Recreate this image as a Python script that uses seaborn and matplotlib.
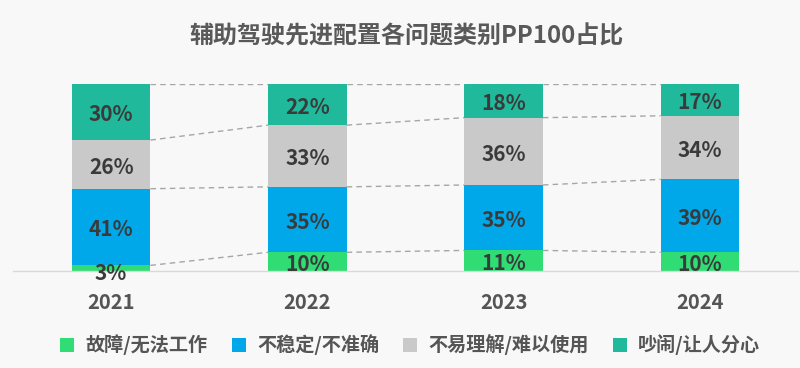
import matplotlib
matplotlib.use("Agg")
import matplotlib.pyplot as plt
import seaborn as sns
import pandas as pd
import numpy as np
from matplotlib.patches import Patch

sns.set_theme(style="white")
plt.rcParams['font.family'] = ['Noto Sans CJK SC', 'DejaVu Sans']

years = ["2021", "2022", "2023", "2024"]
categories = ["故障/无法工作", "不稳定/不准确", "不易理解/难以使用", "吵闹/让人分心"]
fault = [3, 10, 11, 10]
unstable = [41, 35, 35, 39]
hard_to_use = [26, 33, 36, 34]
noisy = [30, 22, 18, 17]
colors = ["#2fdd74", "#00a8ea", "#c9c9c9", "#21b99b"]
title = "辅助驾驶先进配置各问题类别PP100占比"

series = [fault, unstable, hard_to_use, noisy]
cum = np.cumsum(np.array(series), axis=0)  # layer tops

fig = plt.figure(figsize=(8, 3.68), dpi=100)
fig.patch.set_facecolor("#f8f8f8")
ax = fig.add_axes([13/800, 1-271/368, 785/800, 187/368])
ax.set_facecolor("#f8f8f8")

width = 0.4
for k in range(len(series)-1, -1, -1):
    df = pd.DataFrame({"year": years, "value": cum[k]})
    sns.barplot(data=df, x="year", y="value", order=years, color=colors[k],
                width=width, saturation=1, ax=ax, linewidth=0, edgecolor="none")

# dashed connectors
for k in range(len(series)):
    for i in range(len(years)-1):
        ax.plot([i + width/2, i + 1 - width/2], [cum[k][i], cum[k][i+1]],
                ls=(0, (4, 3)), color="#a6a6a6", lw=1, zorder=1)

# labels
for k in range(len(series)):
    for i in range(len(years)):
        bottom = cum[k][i] - series[k][i]
        y = bottom + series[k][i] / 2
        off = -2.0 if series[k][i] >= 5 else -4.0
        ax.annotate(f"{series[k][i]}%", xy=(i, y), xytext=(0, off),
                    textcoords="offset points", ha="center", va="center",
                    fontsize=15, fontweight="bold", color="#3a3a3a", zorder=5)

ax.set_ylim(0, 100)
ax.set_xlim(-0.5, 3.5)
ax.set_xlabel("")
ax.set_ylabel("")
ax.set_yticks([])
for s in ["top", "right", "left"]:
    ax.spines[s].set_visible(False)
ax.spines["bottom"].set_color("#d9d9d9")
ax.spines["bottom"].set_linewidth(1)
ax.tick_params(axis="x", length=0, pad=15, labelsize=14.5, labelcolor="#555555")
for lab in ax.get_xticklabels():
    lab.set_fontweight("bold")

fig.text(0.508, 1-36/368, title, ha="center", va="center", fontsize=17.3,
         fontweight="bold", color="#595959")

handles = [Patch(facecolor=c, edgecolor="none", label=l) for c, l in zip(colors, categories)]
leg = fig.legend(handles=handles, loc="center", bbox_to_anchor=(0.513, 1-345/368), ncol=4,
                 frameon=False, handlelength=0.72, handleheight=0.72, handletextpad=0.6,
                 columnspacing=1.25, prop={"size": 13.8, "weight": "bold"})
for t in leg.get_texts():
    t.set_color("#555555")

fig.savefig("out.png", dpi=100, facecolor=fig.get_facecolor())
